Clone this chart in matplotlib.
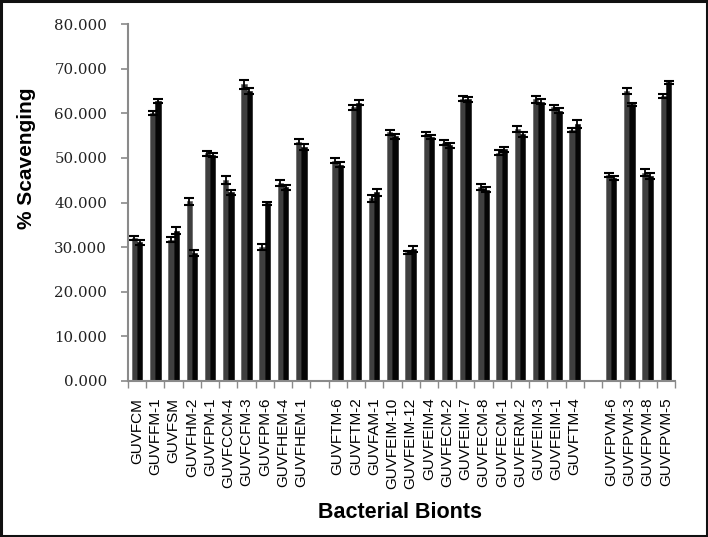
import matplotlib
matplotlib.use("Agg")
import matplotlib.pyplot as plt
from matplotlib.patches import Rectangle
import numpy as np

# ---- data ----
group1 = ["GUVFCM", "GUVFFM-1", "GUVFSM", "GUVFHM-2", "GUVFPM-1", "GUVFCCM-4",
          "GUVFCFM-3", "GUVFPM-6", "GUVFHEM-4", "GUVFHEM-1"]
group2 = ["GUVFTM-6", "GUVFTM-2", "GUVFAM-1", "GUVFEIM-10", "GUVFEIM-12", "GUVFEIM-4",
          "GUVFECM-2", "GUVFEIM-7", "GUVFECM-8", "GUVFECM-1", "GUVFERM-2", "GUVFEIM-3",
          "GUVFEIM-1", "GUVFTM-4"]
group3 = ["GUVFPVM-6", "GUVFPVM-3", "GUVFPVM-8", "GUVFPVM-5"]

gray1 = [32.1, 60.1, 31.7, 40.3, 51.0, 45.0, 66.5, 30.0, 44.4, 53.6]
black1 = [31.1, 62.8, 33.7, 28.7, 50.6, 42.3, 65.0, 39.8, 43.4, 52.4]
gray2 = [49.4, 61.3, 40.9, 55.7, 28.8, 55.4, 53.4, 63.3, 43.5, 51.2, 56.4, 63.1, 61.3, 56.2]
black2 = [48.5, 62.4, 42.3, 54.8, 29.6, 54.7, 52.8, 63.1, 42.9, 51.9, 55.3, 62.6, 60.6, 57.6]
gray3 = [46.1, 65.0, 46.7, 63.9]
black3 = [45.5, 62.0, 45.9, 66.9]

gray_err1 = [0.5, 0.5, 0.6, 0.8, 0.5, 0.9, 1.0, 0.6, 0.6, 0.6]
black_err1 = [0.6, 0.5, 0.8, 0.7, 0.5, 0.6, 0.6, 0.3, 0.6, 0.6]
gray_err2 = [0.5, 0.6, 0.7, 0.6, 0.4, 0.5, 0.5, 0.6, 0.6, 0.5, 0.7, 0.8, 0.6, 0.5]
black_err2 = [0.5, 0.6, 0.8, 0.5, 0.6, 0.5, 0.6, 0.5, 0.6, 0.6, 0.6, 0.5, 0.5, 0.9]
gray_err3 = [0.4, 0.7, 0.8, 0.5]
black_err3 = [0.4, 0.3, 0.6, 0.3]

y_ticks = [0, 10, 20, 30, 40, 50, 60, 70, 80]

# ---- layout of slots (one empty slot between groups) ----
groups = [(group1, gray1, black1, gray_err1, black_err1),
          (group2, gray2, black2, gray_err2, black_err2),
          (group3, gray3, black3, gray_err3, black_err3)]

fig = plt.figure(figsize=(7.08, 5.37), dpi=100)
ax = fig.add_axes([128 / 708, 1 - 381 / 537, 547 / 708, 357 / 537])

axis_col = "#8a8a8a"
bw = 0.29
pos_all, lab_all = [], []
start = 0
for labels, g, b, ge, be in groups:
    x = np.arange(len(labels)) + start
    ax.bar(x - bw / 2, g, width=bw, color="#3f3f3f", edgecolor="#555555", linewidth=0.4,
           yerr=ge, capsize=3.5, error_kw=dict(ecolor="black", elinewidth=1.3, capthick=1.5))
    ax.bar(x + bw / 2, b, width=bw, color="#050505", edgecolor="#050505", linewidth=0.4,
           yerr=be, capsize=3.5, error_kw=dict(ecolor="black", elinewidth=1.3, capthick=1.5))
    pos_all.extend(x)
    lab_all.extend(labels)
    start += len(labels) + 1

nslots = start - 1
ax.set_xlim(-0.5, nslots - 0.5)
ax.set_ylim(0, 80)

ax.set_yticks(y_ticks)
ax.set_yticklabels([f"{v:.3f}" for v in y_ticks], fontfamily="DejaVu Serif", fontsize=10.8,
                   color="#222222")
ax.tick_params(axis="y", direction="out", length=5, color=axis_col, width=1.2, pad=10)

ax.set_xticks(pos_all)
ax.set_xticklabels(lab_all, rotation=90, fontfamily="Liberation Sans", fontsize=11,
                   va="top", ha="center")
ax.tick_params(axis="x", which="major", length=0, pad=12)
ax.set_xticks(np.arange(nslots + 1) - 0.5, minor=True)
ax.tick_params(axis="x", which="minor", direction="out", length=5, color=axis_col, width=1.0)

for s in ["top", "right"]:
    ax.spines[s].set_visible(False)
for s in ["left", "bottom"]:
    ax.spines[s].set_color(axis_col)
    ax.spines[s].set_linewidth(1.5)

fig.text(27 / 708, 1 - 158 / 537, "% Scavenging", rotation=90, ha="center", va="center",
         fontfamily="Liberation Sans", fontsize=15, fontweight="bold")
fig.text(400 / 708, 1 - 512 / 537, "Bacterial Bionts", ha="center", va="center",
         fontfamily="Liberation Sans", fontsize=15.5, fontweight="bold")

fig.patches.append(Rectangle((0.0015, 0.002), 0.997, 0.996, transform=fig.transFigure,
                             fill=False, edgecolor="#111111", linewidth=2.2))

fig.savefig("out.png", dpi=100)
